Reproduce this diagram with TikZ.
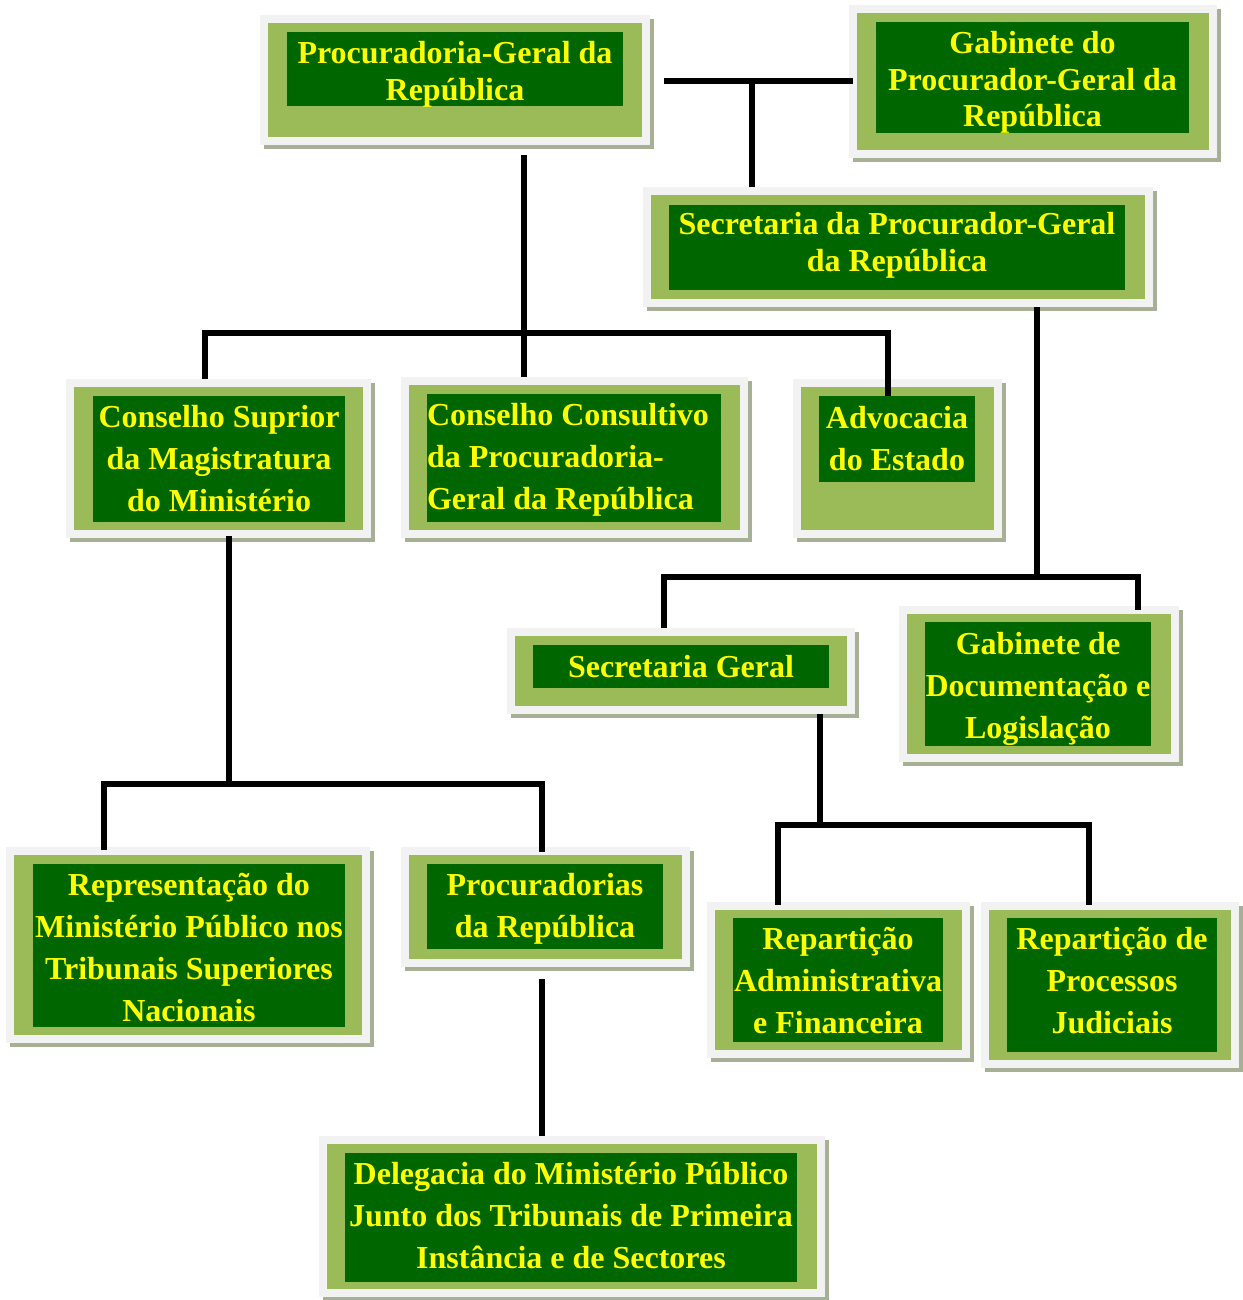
\documentclass[tikz,border=0pt]{standalone}
\usepackage{fontspec}
\setmainfont{Liberation Serif}
\usetikzlibrary{fit,shadows,calc}
\definecolor{framegray}{HTML}{F2F2F2}
\definecolor{shadowgray}{HTML}{A7AF95}
\definecolor{panelgreen}{HTML}{9BBB59}
\definecolor{coregreen}{HTML}{006600}
\definecolor{labelyellow}{HTML}{FFFF00}
\newcommand{\orgbox}[7]{%
  \node[frame, fit={#2 #3}] (#1) {};
  \node[panel, fit={($#2+(8,8)$) ($#3+(-8,-8)$)}] (#1-p) {};
  \node[core, fit={#4 #5}] (#1-in) {};
  \node[#6] (#1-t) at (#1-in) {#7};
}

\begin{document}
\begin{tikzpicture}[x=0.5pt,y=-0.5pt,
  frame/.style={fill=framegray,inner sep=0pt,outer sep=0pt,
    drop shadow={shadow xshift=2pt,shadow yshift=-2.2pt,fill=shadowgray,opacity=1}},
  panel/.style={fill=panelgreen,inner sep=0pt,outer sep=0pt},
  core/.style={fill=coregreen,inner sep=0pt,outer sep=0pt},
  orgtext/.style={text=labelyellow,inner sep=0pt,align=center,
    font=\fontsize{16}{21}\selectfont\bfseries},
  tight/.style={orgtext,font=\fontsize{16}{18.4}\selectfont\bfseries},
  conn/.style={line width=2.6pt,line join=miter}]
\useasboundingbox (0,0) rectangle (1242,1300);

\orgbox{pgr}{(260,15)}{(650,145)}{(287,32)}{(623,106)}{tight,yshift=-2.5pt}{Procuradoria-Geral da\\República}
\orgbox{gab}{(849,5)}{(1217,158)}{(876,22)}{(1189,133)}{tight,yshift=-2.5pt}{Gabinete do\\Procurador-Geral da\\República}
\orgbox{spgr}{(643,187)}{(1153,307)}{(669,205)}{(1125,290)}{tight,yshift=1pt}{Secretaria da Procurador-Geral\\da República}
\orgbox{csm}{(66,379)}{(371,538)}{(93,396)}{(345,522)}{orgtext}{Conselho Suprior\\da Magistratura\\do Ministério}
\orgbox{cct}{(401,377)}{(748,538)}{(427,394)}{(721,522)}{orgtext,align=left,xshift=-3pt,yshift=-1pt}{Conselho Consultivo\\da Procuradoria-\\Geral da República}
\orgbox{adv}{(793,379)}{(1002,538)}{(819,396)}{(975,482)}{orgtext}{Advocacia\\do Estado}
\orgbox{sg}{(507,628)}{(855,714)}{(533,645)}{(829,688)}{orgtext}{Secretaria Geral}
\orgbox{gd}{(899,606)}{(1179,762)}{(925,622)}{(1151,746)}{orgtext,yshift=-2.5pt}{Gabinete de\\Documentação e\\Logislação}
\orgbox{rep}{(6,847)}{(370,1043)}{(33,864)}{(345,1027)}{orgtext,yshift=-1pt}{Representação do\\Ministério Público nos\\Tribunais Superiores\\Nacionais}
\orgbox{proc}{(401,847)}{(690,967)}{(427,864)}{(663,949)}{orgtext,yshift=-1pt}{Procuradorias\\da República}
\orgbox{ra}{(707,902)}{(970,1058)}{(733,918)}{(943,1042)}{orgtext}{Repartição\\Administrativa\\e Financeira}
\orgbox{rp}{(981,902)}{(1239,1068)}{(1007,918)}{(1217,1052)}{orgtext,yshift=2pt}{Repartição de\\Processos\\Judiciais}
\orgbox{del}{(319,1136)}{(825,1297)}{(345,1153)}{(797,1282)}{orgtext,yshift=1pt}{Delegacia do Ministério Público\\Junto dos Tribunais de Primeira\\Instância e de Sectores}

\coordinate (j1) at (524,333);
\coordinate (j2) at (752,81);
\coordinate (j3) at (1037,577);
\coordinate (j4) at (229,784);
\coordinate (j5) at (820,825);

\draw[conn,shorten <=5pt] (pgr.south -| j1) -- (cct.north -| j1);
\draw[conn] (csm.north -| 205,0) |- (j1) -| (adv-in.north -| 888,0);
\draw[conn,shorten <=7pt,shorten >=-2pt] (pgr.east |- j2) -- (gab.west |- j2);
\draw[conn] (j2) -- (spgr.north -| j2);
\draw[conn] (spgr.south -| j3) -- (j3);
\draw[conn,shorten >=-2pt] (sg.north -| 664,0) |- (j3) -| (gd.north -| 1138,0);
\draw[conn,shorten <=-1pt] (csm.south -| j4) -- (j4);
\draw[conn,shorten <=-1.5pt,shorten >=-2.5pt] (rep.north -| 104,0) |- (j4) -| (proc.north -| 542,0);
\draw[conn,shorten <=6pt] (proc.south -| 542,0) -- (del.north -| 542,0);
\draw[conn] (sg.south -| j5) -- (j5);
\draw[conn,shorten <=-1.5pt,shorten >=-1.5pt] (ra.north -| 778,0) |- (j5) -| (rp.north -| 1089,0);
\end{tikzpicture}
\end{document}
